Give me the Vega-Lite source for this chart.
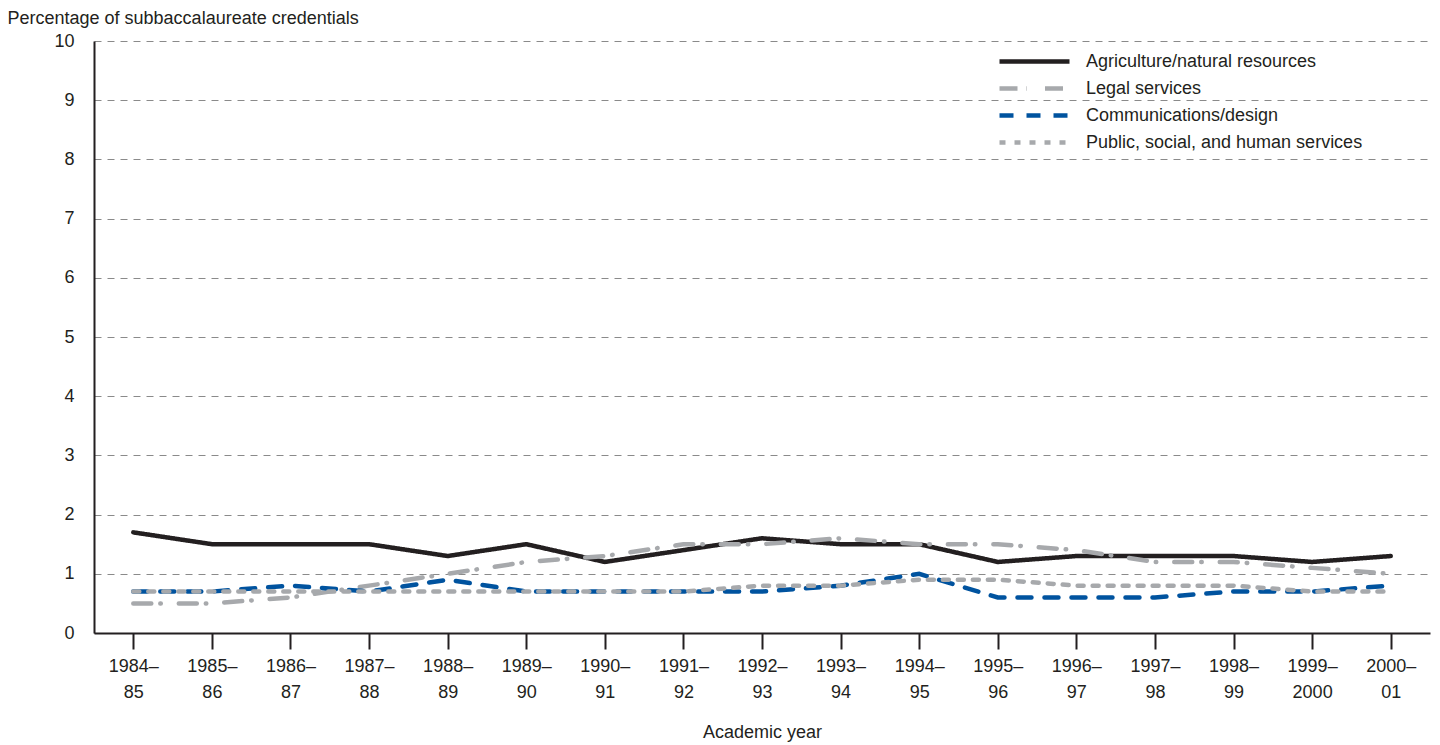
{
  "$schema": "https://vega.github.io/schema/vega-lite/v6.json",
  "width": 1336,
  "height": 592,
  "autosize": {"type": "none"},
  "padding": {"left": 94, "top": 41, "right": 10, "bottom": 112},
  "background": "white",
  "config": {
    "font": "Liberation Sans",
    "view": {"stroke": null},
    "axis": {"labelFont": "Liberation Sans", "titleFont": "Liberation Sans", "labelColor": "#231f20", "titleColor": "#231f20", "labelFontSize": 18, "titleFontSize": 18, "titleFontWeight": "normal"},
    "legend": {"labelFont": "Liberation Sans", "labelFontSize": 18, "labelColor": "#231f20", "labelLimit": 500}
  },
  "data": {
    "values": [
      {"year": "1984–85", "series": "Agriculture/natural resources", "value": 1.7},
      {"year": "1985–86", "series": "Agriculture/natural resources", "value": 1.5},
      {"year": "1986–87", "series": "Agriculture/natural resources", "value": 1.5},
      {"year": "1987–88", "series": "Agriculture/natural resources", "value": 1.5},
      {"year": "1988–89", "series": "Agriculture/natural resources", "value": 1.3},
      {"year": "1989–90", "series": "Agriculture/natural resources", "value": 1.5},
      {"year": "1990–91", "series": "Agriculture/natural resources", "value": 1.2},
      {"year": "1991–92", "series": "Agriculture/natural resources", "value": 1.4},
      {"year": "1992–93", "series": "Agriculture/natural resources", "value": 1.6},
      {"year": "1993–94", "series": "Agriculture/natural resources", "value": 1.5},
      {"year": "1994–95", "series": "Agriculture/natural resources", "value": 1.5},
      {"year": "1995–96", "series": "Agriculture/natural resources", "value": 1.2},
      {"year": "1996–97", "series": "Agriculture/natural resources", "value": 1.3},
      {"year": "1997–98", "series": "Agriculture/natural resources", "value": 1.3},
      {"year": "1998–99", "series": "Agriculture/natural resources", "value": 1.3},
      {"year": "1999–2000", "series": "Agriculture/natural resources", "value": 1.2},
      {"year": "2000–01", "series": "Agriculture/natural resources", "value": 1.3},
      {"year": "1984–85", "series": "Legal services", "value": 0.5},
      {"year": "1985–86", "series": "Legal services", "value": 0.5},
      {"year": "1986–87", "series": "Legal services", "value": 0.6},
      {"year": "1987–88", "series": "Legal services", "value": 0.8},
      {"year": "1988–89", "series": "Legal services", "value": 1.0},
      {"year": "1989–90", "series": "Legal services", "value": 1.2},
      {"year": "1990–91", "series": "Legal services", "value": 1.3},
      {"year": "1991–92", "series": "Legal services", "value": 1.5},
      {"year": "1992–93", "series": "Legal services", "value": 1.5},
      {"year": "1993–94", "series": "Legal services", "value": 1.6},
      {"year": "1994–95", "series": "Legal services", "value": 1.5},
      {"year": "1995–96", "series": "Legal services", "value": 1.5},
      {"year": "1996–97", "series": "Legal services", "value": 1.4},
      {"year": "1997–98", "series": "Legal services", "value": 1.2},
      {"year": "1998–99", "series": "Legal services", "value": 1.2},
      {"year": "1999–2000", "series": "Legal services", "value": 1.1},
      {"year": "2000–01", "series": "Legal services", "value": 1.0},
      {"year": "1984–85", "series": "Communications/design", "value": 0.7},
      {"year": "1985–86", "series": "Communications/design", "value": 0.7},
      {"year": "1986–87", "series": "Communications/design", "value": 0.8},
      {"year": "1987–88", "series": "Communications/design", "value": 0.7},
      {"year": "1988–89", "series": "Communications/design", "value": 0.9},
      {"year": "1989–90", "series": "Communications/design", "value": 0.7},
      {"year": "1990–91", "series": "Communications/design", "value": 0.7},
      {"year": "1991–92", "series": "Communications/design", "value": 0.7},
      {"year": "1992–93", "series": "Communications/design", "value": 0.7},
      {"year": "1993–94", "series": "Communications/design", "value": 0.8},
      {"year": "1994–95", "series": "Communications/design", "value": 1.0},
      {"year": "1995–96", "series": "Communications/design", "value": 0.6},
      {"year": "1996–97", "series": "Communications/design", "value": 0.6},
      {"year": "1997–98", "series": "Communications/design", "value": 0.6},
      {"year": "1998–99", "series": "Communications/design", "value": 0.7},
      {"year": "1999–2000", "series": "Communications/design", "value": 0.7},
      {"year": "2000–01", "series": "Communications/design", "value": 0.8},
      {"year": "1984–85", "series": "Public, social, and human services", "value": 0.7},
      {"year": "1985–86", "series": "Public, social, and human services", "value": 0.7},
      {"year": "1986–87", "series": "Public, social, and human services", "value": 0.7},
      {"year": "1987–88", "series": "Public, social, and human services", "value": 0.7},
      {"year": "1988–89", "series": "Public, social, and human services", "value": 0.7},
      {"year": "1989–90", "series": "Public, social, and human services", "value": 0.7},
      {"year": "1990–91", "series": "Public, social, and human services", "value": 0.7},
      {"year": "1991–92", "series": "Public, social, and human services", "value": 0.7},
      {"year": "1992–93", "series": "Public, social, and human services", "value": 0.8},
      {"year": "1993–94", "series": "Public, social, and human services", "value": 0.8},
      {"year": "1994–95", "series": "Public, social, and human services", "value": 0.9},
      {"year": "1995–96", "series": "Public, social, and human services", "value": 0.9},
      {"year": "1996–97", "series": "Public, social, and human services", "value": 0.8},
      {"year": "1997–98", "series": "Public, social, and human services", "value": 0.8},
      {"year": "1998–99", "series": "Public, social, and human services", "value": 0.8},
      {"year": "1999–2000", "series": "Public, social, and human services", "value": 0.7},
      {"year": "2000–01", "series": "Public, social, and human services", "value": 0.7}
    ]
  },
  "mark": {"type": "line", "strokeWidth": 4.5, "strokeCap": "round", "strokeJoin": "miter"},
  "encoding": {
    "x": {
      "field": "year", "type": "ordinal", "sort": null,
      "scale": {"type": "point", "padding": 0.5},
      "axis": {
        "title": "Academic year", "labelAngle": 0,
        "labelExpr": "[slice(datum.label,0,5), slice(datum.label,5)]",
        "labelLineHeight": 26, "labelPadding": 8, "labelBaseline": "top",
        "tickSize": 16, "tickColor": "#231f20", "tickWidth": 2,
        "domainColor": "#231f20", "domainWidth": 2,
        "titlePadding": 22, "grid": false
      }
    },
    "y": {
      "field": "value", "type": "quantitative",
      "scale": {"domain": [0, 10], "nice": false},
      "axis": {
        "values": [0,1,2,3,4,5,6,7,8,9,10], "format": "d",
        "title": "Percentage of subbaccalaureate credentials",
        "titleAngle": 0, "titleAlign": "left", "titleBaseline": "bottom",
        "titleX": -87, "titleY": -14,
        "ticks": false, "labelPadding": 20,
        "domainColor": "#231f20", "domainWidth": 2,
        "grid": true, "gridColor": "#8a8a8a", "gridDash": [7, 6], "gridWidth": 1
      }
    },
    "color": {
      "field": "series", "type": "nominal",
      "scale": {
        "domain": ["Agriculture/natural resources", "Legal services", "Communications/design", "Public, social, and human services"],
        "range": ["#231f20", "#a7a9ac", "#00539f", "#a7a9ac"]
      },
      "legend": {
        "title": null, "orient": "none", "legendX": 928, "legendY": 8,
        "symbolType": "M-3.5,0H3.5", "symbolSize": 400, "symbolStrokeWidth": 4.5,
        "rowPadding": 5, "labelOffset": 39
      }
    },
    "strokeDash": {
      "field": "series", "type": "nominal",
      "scale": {
        "domain": ["Agriculture/natural resources", "Legal services", "Communications/design", "Public, social, and human services"],
        "range": [[1, 0], [18, 9, 0.5, 18], [14, 13], [6, 9]]
      },
      "legend": null
    }
  }
}
